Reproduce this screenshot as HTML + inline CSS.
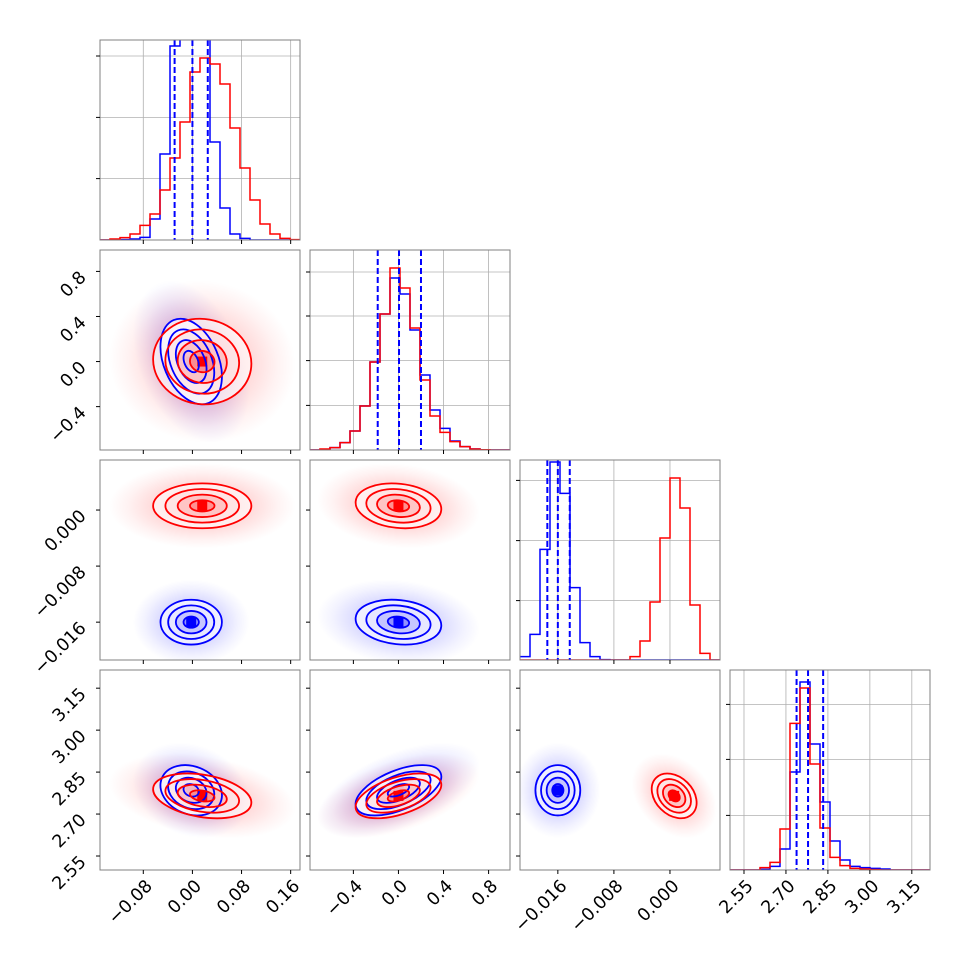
<!DOCTYPE html>
<html><head><meta charset="utf-8"><style>
html,body{margin:0;padding:0;background:#fff;}
svg{display:block;font-family:"DejaVu Sans","Liberation Sans",sans-serif;}
</style></head><body>
<svg id="fig" width="970" height="970" viewBox="0 0 970 970" xmlns="http://www.w3.org/2000/svg">
<defs id="defs"></defs>
</svg>
<script>
// ---- data ----
const paramRanges = [[-0.1505,0.1752],[-0.785,0.99],[-0.0214,0.00714],[2.50,3.215]];
const paramTicks = [[-0.08,0.00,0.08,0.16],[-0.4,0.0,0.4,0.8],[-0.016,-0.008,0.000],[2.55,2.70,2.85,3.00,3.15]];
const paramTickLabels = [["\u22120.08","0.00","0.08","0.16"],["\u22120.4","0.0","0.4","0.8"],["\u22120.016","\u22120.008","0.000"],["2.55","2.70","2.85","3.00","3.15"]];
const histBlue0 = [0,0,0.002,0.005,0.013,0.105,0.43,0.97,1.1,1.1,1.05,0.49,0.16,0.03,0.008,0,0,0,0,0];
const histRed0  = [0,0.005,0.012,0.03,0.073,0.13,0.25,0.41,0.59,0.84,0.91,0.88,0.78,0.56,0.36,0.20,0.08,0.03,0.008,0.002];
const histBlue1 = [0,0.003,0.012,0.037,0.095,0.22,0.44,0.68,0.86,0.78,0.60,0.375,0.2,0.108,0.045,0.017,0.005,0,0,0];
const histRed1  = [0,0.005,0.012,0.037,0.095,0.22,0.44,0.68,0.91,0.81,0.61,0.35,0.17,0.088,0.042,0.017,0.005,0.001,0,0];
const histBlue2 = [0.017,0.128,0.553,0.99,0.833,0.362,0.087,0.017,0.002,0,0,0,0,0,0,0,0,0,0,0];
const histRed2  = [0,0,0,0,0,0,0,0,0,0,0,0.017,0.095,0.29,0.61,0.91,0.76,0.275,0.033,0];
const histBlue3 = [0,0,0,0.003,0.018,0.105,0.49,0.94,0.63,0.34,0.145,0.05,0.018,0.012,0.008,0.005,0,0,0,0];
const histRed3  = [0,0,0,0.012,0.038,0.205,0.733,0.91,0.53,0.21,0.063,0.022,0.008,0.005,0.002,0,0,0,0,0];
const histYTicks = [[0.307,0.613,0.92],[0.223,0.447,0.67,0.89],[0.297,0.597,0.898],[0.273,0.553,0.828]];
const quantiles = [[-0.029,0.0,0.025],[-0.184,0.005,0.20],[-0.0175,-0.0160,-0.0143],[2.738,2.779,2.833]];
const meanBlue = [-0.002,0.0,-0.0160,2.785];
const meanRed  = [0.016,0.0,0.0006,2.765];
const sdBlue = [0.025,0.19,0.0016,0.045];
const sdRed  = [0.04,0.19,0.0016,0.04];
// correlations keyed "col-row"
const rhoBlue = {"0-1":-0.35,"0-2":0,"1-2":-0.15,"0-3":-0.2,"1-3":0.55,"2-3":0};
const rhoRed  = {"0-1":-0.05,"0-2":0,"1-2":-0.15,"0-3":-0.3,"1-3":0.5,"2-3":-0.3};

// ---- layout ----
const NS="http://www.w3.org/2000/svg";
const svg=document.getElementById('fig');
const defs=document.getElementById('defs');
const colX=[100,310,520,730], rowY=[40,250,460,670], S=200;
function xs(p,col,v){const r=paramRanges[p];return colX[col]+(v-r[0])/(r[1]-r[0])*S;}
function ys(p,row,v){const r=paramRanges[p];return rowY[row]+S-(v-r[0])/(r[1]-r[0])*S;}
function mk(tag,attrs,parent){const e=document.createElementNS(NS,tag);for(const k in attrs)e.setAttribute(k,attrs[k]);(parent||svg).appendChild(e);return e;}

const hists=[[histBlue0,histRed0],[histBlue1,histRed1],[histBlue2,histRed2],[histBlue3,histRed3]];
const BLUE="#0000ff", RED="#ff0000";
const FS=17.5;

[["blue",BLUE],["red",RED]].forEach(([n,c])=>{
  const g=mk('radialGradient',{id:'cloud-'+n},defs);
  mk('stop',{offset:'0','stop-color':c,'stop-opacity':'0.30'},g);
  mk('stop',{offset:'0.5','stop-color':c,'stop-opacity':'0.15'},g);
  mk('stop',{offset:'0.8','stop-color':c,'stop-opacity':'0.05'},g);
  mk('stop',{offset:'1','stop-color':c,'stop-opacity':'0'},g);
});

function addTicksAndLabels(g,col,row,pX,pY,isHist){
  const x0=colX[col],y0=rowY[row];
  paramTicks[pX].forEach((t,k)=>{
    const x=xs(pX,col,t);
    const tk=mk('line',{x1:x,x2:x,y1:y0+S,y2:y0+S+4,stroke:'#000','stroke-width':1},g);
    
    
    if(row===3){
      const ax=x+10, ay=y0+S+17;
      const tx=mk('text',{x:ax,y:ay,'font-size':FS,'text-anchor':'end',transform:`rotate(-45 ${ax} ${ay})`},g);
      tx.textContent=paramTickLabels[pX][k];
      
      
    }
  });
  if(isHist){
    histYTicks[col].forEach(f=>{
      const y=y0+S-f*S;
      const tk=mk('line',{x1:x0-4,x2:x0,y1:y,y2:y,stroke:'#000','stroke-width':1},g);
      
      
    });
  } else {
    paramTicks[pY].forEach((t,k)=>{
      const y=ys(pY,row,t);
      const tk=mk('line',{x1:x0-4,x2:x0,y1:y,y2:y,stroke:'#000','stroke-width':1},g);
      
      
      if(col===0){
        const ax=87, ay=y+7;
        const tx=mk('text',{x:ax,y:ay,'font-size':FS,'text-anchor':'end',transform:`rotate(-45 ${ax} ${ay})`},g);
        tx.textContent=paramTickLabels[pY][k];
        
        
      }
    });
  }
}

// ---- histogram panels ----
for(let p=0;p<4;p++){
  const g=mk('g',{});
  
  
  const x0=colX[p],y0=rowY[p];
  const cp=mk('clipPath',{id:'clip-h'+p},defs);
  mk('rect',{x:x0,y:y0,width:S,height:S},cp);
  const inner=mk('g',{'clip-path':'url(#clip-h'+p+')'},g);
  paramTicks[p].forEach(t=>{const x=xs(p,p,t);mk('line',{x1:x,x2:x,y1:y0,y2:y0+S,stroke:'#b0b0b0','stroke-width':0.8},inner);});
  histYTicks[p].forEach(f=>{const y=y0+S-f*S;mk('line',{x1:x0,x2:x0+S,y1:y,y2:y,stroke:'#b0b0b0','stroke-width':0.8},inner);});
  const r=paramRanges[p];
  [[0,BLUE,'blue'],[1,RED,'red']].forEach(([si,c,n])=>{
    const h=hists[p][si];const nb=h.length;const w=(r[1]-r[0])/nb;
    let d='';
    for(let b=0;b<nb;b++){
      const xa=xs(p,p,r[0]+b*w),xb=xs(p,p,r[0]+(b+1)*w),y=y0+S-h[b]*S;
      d+=(b===0?`M${xa},${y}`:`L${xa},${y}`)+`L${xb},${y}`;
    }
    const path=mk('path',{d:d,fill:'none',stroke:c,'stroke-width':1.5},inner);
    
    
  });
  quantiles[p].forEach(q=>{
    const x=xs(p,p,q);
    const l=mk('line',{x1:x,x2:x,y1:y0,y2:y0+S,stroke:BLUE,'stroke-width':2,'stroke-dasharray':'6,3'},inner);
    
    
  });
  const fr=mk('rect',{x:x0,y:y0,width:S,height:S,fill:'none',stroke:'#808080','stroke-width':1},g);
  
  
  addTicksAndLabels(g,p,p,p,p,true);
}

// ---- 2D panels ----
function ellipseParams(col,row,mean,sd,rho){
  const sx=sd[col]*S/(paramRanges[col][1]-paramRanges[col][0]);
  const sy=sd[row]*S/(paramRanges[row][1]-paramRanges[row][0]);
  const rp=-rho;
  const a=sx*sx,c=sy*sy,b=rp*sx*sy;
  const m=(a+c)/2,dd=Math.sqrt(((a-c)/2)**2+b*b);
  const l1=m+dd,l2=Math.max(m-dd,1e-6);
  const ang=0.5*Math.atan2(2*b,a-c)*180/Math.PI;
  return {cx:xs(col,col,mean[col]),cy:ys(row,row,mean[row]),r1:Math.sqrt(l1),r2:Math.sqrt(l2),ang:ang};
}
for(let row=1;row<4;row++){
  for(let col=0;col<row;col++){
    const key=col+'-'+row;
    const g=mk('g',{});
    
    
    const x0=colX[col],y0=rowY[row];
    const cp=mk('clipPath',{id:'clip-'+key},defs);
    mk('rect',{x:x0,y:y0,width:S,height:S},cp);
    const inner=mk('g',{'clip-path':'url(#clip-'+key+')'},g);
    const series=[['blue',BLUE,meanBlue,sdBlue,rhoBlue[key],['#ffffff','#e4e4ff','#b0b0ff','#7070ff']],
                  ['red',RED,meanRed,sdRed,rhoRed[key],['#ffffff','#ffe0e0','#ffb0b0','#ff7070']]];
    series.forEach(([n,c,mean,sd,rho])=>{
      const e=ellipseParams(col,row,mean,sd,rho);
      const cl=mk('ellipse',{cx:e.cx,cy:e.cy,rx:e.r1*3.8,ry:e.r2*3.8,fill:`url(#cloud-${n})`,transform:`rotate(${e.ang} ${e.cx} ${e.cy})`},inner);
      
      
    });
    series.forEach(([n,c,mean,sd,rho,fills])=>{
      const e=ellipseParams(col,row,mean,sd,rho);
      const tr=`rotate(${e.ang} ${e.cx} ${e.cy})`;
      [2,1.5,1,0.5].forEach((k,i)=>{
        mk('ellipse',{cx:e.cx,cy:e.cy,rx:e.r1*k,ry:e.r2*k,fill:fills[i],'fill-opacity':0.6,transform:tr},inner);
      });
      const sq=mk('rect',{x:e.cx-5,y:e.cy-5,width:10,height:10,fill:c},inner);
      
      
    });
    series.forEach(([n,c,mean,sd,rho])=>{
      const e=ellipseParams(col,row,mean,sd,rho);
      const tr=`rotate(${e.ang} ${e.cx} ${e.cy})`;
      [2,1.5,1,0.5].forEach(k=>{
        const ce=mk('ellipse',{cx:e.cx,cy:e.cy,rx:e.r1*k,ry:e.r2*k,fill:'none',stroke:c,'stroke-width':1.8,transform:tr},inner);
        
        
      });
    });
    const fr=mk('rect',{x:x0,y:y0,width:S,height:S,fill:'none',stroke:'#808080','stroke-width':1},g);
    
    
    addTicksAndLabels(g,col,row,col,row,false);
  }
}
</script>
</body></html>
